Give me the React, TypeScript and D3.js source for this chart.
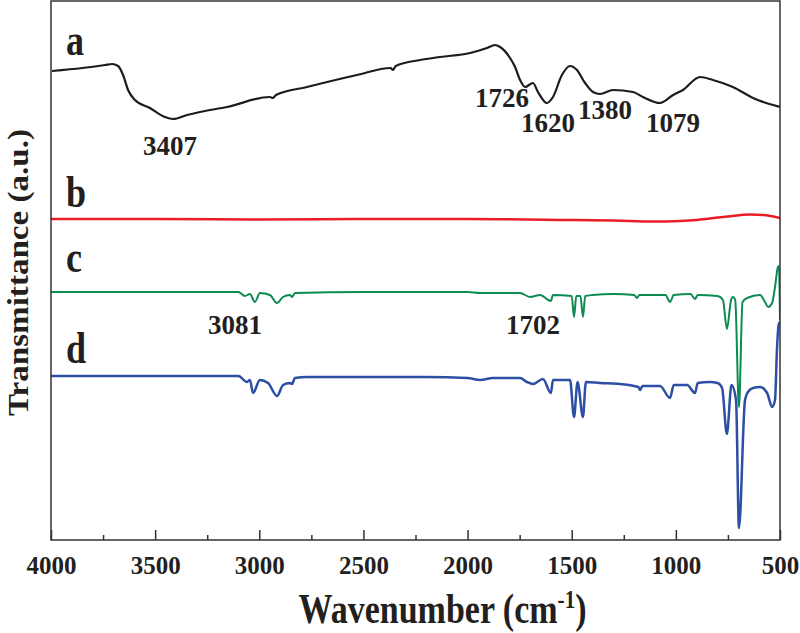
import React, { useEffect, useRef } from 'react';
import * as d3 from 'd3';

// FTIR spectra, [wavenumber, transmittance (a.u., offset per curve)]
const seriesA: [number, number][] = [
  [3995, 469], [3850, 472], [3740, 475], [3707, 476], [3678, 474], [3654, 465], [3630, 450],
  [3597, 440], [3525, 432], [3453, 423], [3414, 421], [3347, 425], [3285, 428], [3155, 433],
  [2950, 443], [2934, 442], [2920, 445], [2771, 453], [2531, 465], [2370, 472], [2358, 470],
  [2345, 474], [2228, 480], [2132, 483], [1988, 487], [1907, 492], [1868, 495], [1844, 493],
  [1796, 482], [1772, 473], [1748, 460], [1724, 453], [1686, 457], [1662, 448], [1619, 437],
  [1590, 443], [1547, 465], [1508, 474], [1475, 470], [1436, 457], [1398, 448], [1364, 446],
  [1302, 450], [1206, 448], [1158, 443], [1076, 437], [1013, 445], [966, 450], [884, 463],
  [822, 460], [726, 453], [630, 442], [500, 433]
];

const seriesB: [number, number][] = [
  [4000, 321], [3500, 321], [3000, 320.5], [2500, 321], [2000, 321], [1500, 320], [1300, 319.5],
  [1110, 318.5], [980, 319], [900, 320], [836, 321.5], [750, 323.5], [644, 325.5], [580, 325], [500, 322]
];

const seriesC: [number, number][] = [
  [4000, 248], [3500, 248], [3100, 248], [3069, 244], [3045, 246], [3021, 238], [2997, 247],
  [2949, 245], [2915, 237], [2886, 243], [2853, 245], [2843, 243], [2829, 247], [2500, 248],
  [2000, 248], [1940, 247], [1748, 247], [1700, 243], [1652, 245], [1600, 239], [1590, 245],
  [1500, 244], [1489, 223], [1478, 244], [1458, 244], [1446, 223], [1435, 244], [1400, 245],
  [1300, 246], [1200, 245], [1187, 242], [1175, 245], [1050, 245], [1028, 238], [1010, 245],
  [930, 246], [908, 241], [895, 245], [800, 244], [774, 240], [755, 211], [735, 240], [726, 243],
  [715, 240], [697, 133], [680, 238], [658, 242], [596, 245], [572, 238], [557, 233], [538, 237],
  [524, 253], [510, 273], [505, 274], [500, 220]
];

const seriesD: [number, number][] = [
  [4000, 164], [3500, 164], [3100, 164], [3059, 158], [3045, 160], [3030, 147], [2997, 160],
  [2958, 157], [2915, 144], [2886, 155], [2853, 157], [2843, 156], [2829, 162], [2771, 163],
  [2200, 163], [2000, 162], [1940, 160], [1878, 162], [1748, 162], [1715, 158], [1686, 156],
  [1638, 161], [1600, 147], [1590, 160], [1508, 160], [1489, 123], [1472, 158], [1446, 123],
  [1432, 158], [1364, 157], [1268, 156], [1180, 153], [1172, 150], [1160, 154], [1076, 154],
  [1028, 142], [1010, 155], [946, 155], [908, 147], [895, 157], [836, 158], [800, 157],
  [778, 152], [755, 106], [733, 155], [711, 140], [697, 12], [668, 140], [654, 148], [630, 152],
  [596, 153], [562, 147], [538, 133], [524, 140], [514, 193], [505, 217], [500, 217]
];

const curveLabels = ['a', 'b', 'c', 'd'];
const labelValues = [485, 333, 268, 177];
const curveColors = ['#1c1c1c', '#ec1c24', '#0b8a52', '#2c4ea3'];

const annotations: { text: string; wn: number; v: number }[] = [
  { text: '3407', wn: 3429, v: 385 },
  { text: '1726', wn: 1835, v: 433 },
  { text: '1620', wn: 1614, v: 408 },
  { text: '1380', wn: 1340, v: 421 },
  { text: '1079', wn: 1014, v: 408 },
  { text: '3081', wn: 3117, v: 206 },
  { text: '1702', wn: 1686, v: 206 }
];

const majorTicks = [4000, 3500, 3000, 2500, 2000, 1500, 1000, 500];
const minorTicks = [3750, 3250, 2750, 2250, 1750, 1250, 750];

const FONT = '"Liberation Serif", "Times New Roman", serif';

export default function App() {
  const svgRef = useRef<SVGSVGElement>(null);

  useEffect(() => {
    const margin = { top: 1, right: 20, bottom: 93, left: 51 };
    const width = 800 - margin.left - margin.right;
    const height = 633 - margin.top - margin.bottom;

    const root = d3.select(svgRef.current);
    root.selectAll('*').remove();
    const svg = root.append('g').attr('transform', `translate(${margin.left},${margin.top})`);

    const x = d3.scaleLinear().domain([4000, 500]).range([0, width]);
    const y = d3.scaleLinear().domain([0, height]).range([height, 0]);

    const line = d3.line<[number, number]>()
      .x(d => x(d[0]))
      .y(d => y(d[1]))
      .curve(d3.curveMonotoneX);

    const allSeries = [seriesA, seriesB, seriesC, seriesD];
    const widths = [2.2, 2.5, 2, 2.5];

    svg.append('defs').append('clipPath').attr('id', 'plot-clip')
      .append('rect').attr('width', width).attr('height', height);

    svg.append('g').attr('clip-path', 'url(#plot-clip)')
      .selectAll('path')
      .data(allSeries)
      .enter()
      .append('path')
      .attr('d', d => line(d))
      .attr('fill', 'none')
      .attr('stroke', (d, i) => curveColors[i])
      .attr('stroke-width', (d, i) => widths[i])
      .attr('stroke-linejoin', 'round');

    // frame
    svg.append('rect')
      .attr('width', width)
      .attr('height', height)
      .attr('fill', 'none')
      .attr('stroke', '#333')
      .attr('stroke-width', 1.5);

    // inward ticks on the bottom axis
    const xAxis = svg.append('g').attr('transform', `translate(0,${height})`);
    xAxis.append('g')
      .call(d3.axisBottom(x).tickValues(majorTicks).tickSize(-10).tickPadding(16).tickFormat(d3.format('d')))
      .call(g => g.select('.domain').remove())
      .call(g => g.selectAll('line').attr('stroke', '#333').attr('stroke-width', 1.5))
      .call(g => g.selectAll('text')
        .attr('fill', '#231f20')
        .style('font-family', FONT)
        .style('font-weight', 'bold')
        .style('font-size', '25px'));
    xAxis.append('g')
      .call(d3.axisBottom(x).tickValues(minorTicks).tickSize(-5).tickFormat(() => ''))
      .call(g => g.select('.domain').remove())
      .call(g => g.selectAll('line').attr('stroke', '#333').attr('stroke-width', 1.5));

    // axis titles
    const xt = svg.append('g')
      .attr('transform', `translate(${width / 2 + 27},${height + 83}) scale(0.81,1)`)
      .append('text')
      .attr('text-anchor', 'middle')
      .attr('fill', '#231f20')
      .style('font-family', FONT)
      .style('font-weight', 'bold')
      .style('font-size', '42px');
    xt.append('tspan').text('Wavenumber (cm');
    xt.append('tspan').attr('dy', -15).style('font-size', '26px').text('-1');
    xt.append('tspan').attr('dy', 15).text(')');

    svg.append('text')
      .attr('transform', `translate(${-margin.left + 28},${height / 2 + 2})rotate(-90)`)
      .attr('text-anchor', 'middle')
      .attr('fill', '#231f20')
      .attr('textLength', 287)
      .attr('lengthAdjust', 'spacingAndGlyphs')
      .style('font-family', FONT)
      .style('font-weight', 'bold')
      .style('font-size', '30px')
      .text('Transmittance (a.u.)');

    // curve labels
    svg.selectAll('.curve-label')
      .data(curveLabels)
      .enter()
      .append('text')
      .attr('class', 'curve-label')
      .attr('transform', (d, i) => `translate(15,${y(labelValues[i])}) scale(0.82,1)`)
      .attr('fill', '#231f20')
      .style('font-family', FONT)
      .style('font-weight', 'bold')
      .style('font-size', '44px')
      .text(d => d);

    // peak annotations
    svg.selectAll('.peak')
      .data(annotations)
      .enter()
      .append('text')
      .attr('class', 'peak')
      .attr('x', d => x(d.wn))
      .attr('y', d => y(d.v))
      .attr('text-anchor', 'middle')
      .attr('fill', '#231f20')
      .style('font-family', FONT)
      .style('font-weight', 'bold')
      .style('font-size', '27px')
      .text(d => d.text);
  }, []);

  return (
    <div>
      <svg ref={svgRef} width={800} height={633} style={{ position: 'absolute', left: 0, top: 0, background: '#fff' }}></svg>
    </div>
  );
}
